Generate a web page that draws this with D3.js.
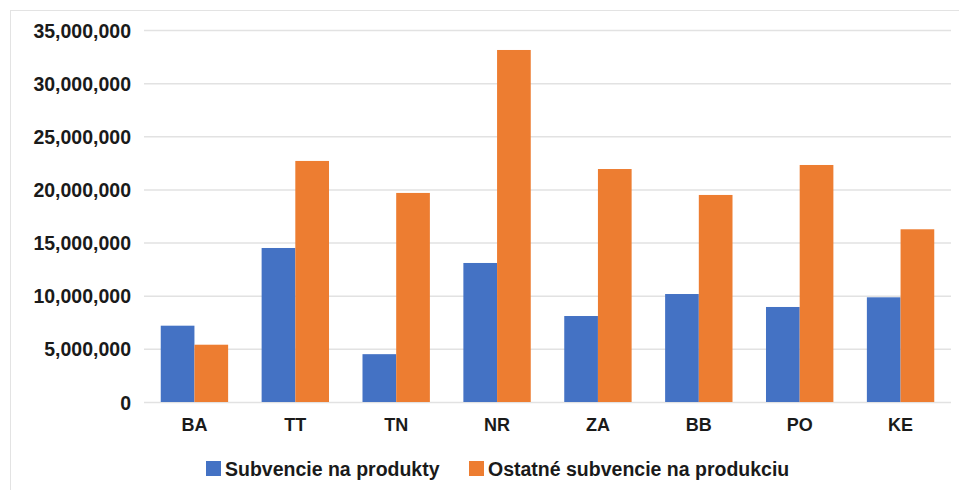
<!DOCTYPE html>
<html><head><meta charset="utf-8">
<script src="https://cdn.jsdelivr.net/npm/d3@7/dist/d3.min.js"></script>
<style>body{margin:0;background:#fff}text{font-family:"Liberation Sans",Arial,sans-serif;font-weight:bold;fill:#1a1a1a}</style>
</head><body><svg id="c" width="959" height="490"></svg>
<script>
const categories = ["BA","TT","TN","NR","ZA","BB","PO","KE"];
const seriesNames = ["Subvencie na produkty","Ostatné subvencie na produkciu"];
const subvencieNaProdukty = [7180000,14490000,4500000,13080000,8090000,10160000,8940000,9850000];
const ostatneSubvencie = [5390000,22680000,19670000,33120000,21920000,19480000,22300000,16250000];
const yTicks = [0,5000000,10000000,15000000,20000000,25000000,30000000,35000000];
const colors = ["#4472C4","#ED7D31"];

const svg = d3.select("#c");
svg.append("rect").attr("x",10.5).attr("y",10.5).attr("width",960).attr("height",490).attr("fill","none").attr("stroke","#e3e3e3");
const L=144,R=951,T=30,B=402;
const x = d3.scaleBand().domain(categories).range([L,R]).paddingInner(0.332).paddingOuter(0.166);
const x1 = d3.scaleBand().domain([0,1]).range([0,x.bandwidth()]);
const y = d3.scaleLinear().domain([0,35000000]).range([B,T]);
const fmt = d3.format(",");

const yAxis = svg.append("g").attr("transform",`translate(${L},0)`)
  .call(d3.axisLeft(y).tickValues(yTicks).tickFormat(fmt).tickSize(-(R-L)).tickPadding(13));
yAxis.select(".domain").remove();
yAxis.selectAll(".tick line").attr("stroke","#e2e2e2").attr("stroke-width",1.5);
yAxis.selectAll(".tick text").attr("font-size",19.5).attr("fill","#1a1a1a").attr("dy","0.36em");

const data = categories.map((c,i)=>({c,v:[subvencieNaProdukty[i],ostatneSubvencie[i]]}));
const g = svg.append("g");
data.forEach(d=>{
  d.v.forEach((v,j)=>{
    g.append("rect").attr("x",x(d.c)+x1(j)).attr("width",x1.bandwidth())
      .attr("y",y(v)).attr("height",y(0)-y(v)).attr("fill",colors[j]);
  });
});

const xAxis = svg.append("g").attr("transform",`translate(0,${B})`)
  .call(d3.axisBottom(x).tickSize(0).tickPadding(16));
xAxis.select(".domain").remove();
xAxis.selectAll(".tick text").attr("font-size",18).attr("fill","#1a1a1a");

const leg = svg.append("g");
const lx=[206,469];
seriesNames.forEach((n,j)=>{
  leg.append("rect").attr("x",lx[j]).attr("y",461).attr("width",15).attr("height",15).attr("fill",colors[j]);
  leg.append("text").attr("x",lx[j]+19).attr("y",476).attr("font-size",19.5).text(n);
});
</script></body></html>
